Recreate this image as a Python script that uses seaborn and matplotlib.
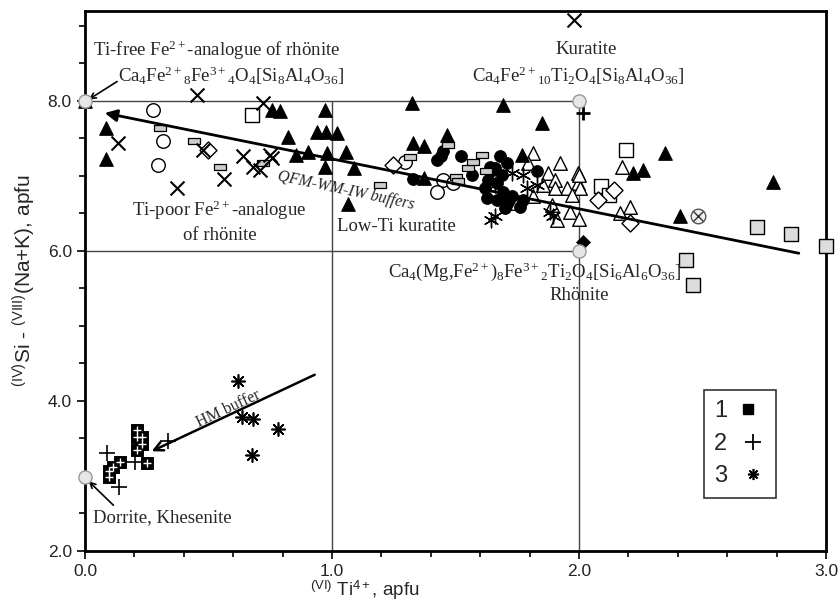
import matplotlib
matplotlib.use("Agg")
import matplotlib.pyplot as plt
import seaborn as sns
from matplotlib.lines import Line2D
from matplotlib.legend_handler import HandlerTuple
from matplotlib.ticker import MultipleLocator, FormatStrFormatter

# ---------------- data ----------------
tri_filled_x = [0.0, 0.085, 0.085, 0.756, 0.789, 0.823, 0.854, 0.904, 0.938, 0.972, 0.976, 1.019, 0.978,
                0.972, 1.057, 1.089, 1.066, 1.322, 1.329, 1.372, 1.467, 1.372, 1.691, 1.849, 1.768, 2.22,
                2.26, 2.348, 2.409, 2.787]
tri_filled_y = [8.0, 7.64, 7.22, 7.88, 7.86, 7.52, 7.28, 7.32, 7.59, 7.88, 7.59, 7.57, 7.30,
                7.12, 7.32, 7.10, 6.63, 7.97, 7.44, 7.40, 7.55, 6.97, 7.95, 7.71, 7.28, 7.04,
                7.08, 7.30, 6.46, 6.92]

tri_open_x = [1.812, 1.795, 1.923, 1.876, 1.903, 1.997, 1.997, 1.95, 1.856, 1.903, 2.005, 1.747, 1.815,
              1.889, 1.964, 2.0, 1.909, 2.0, 1.97, 2.173, 2.207, 2.166]
tri_open_y = [7.30, 7.17, 7.17, 7.04, 6.95, 7.04, 6.91, 6.84, 6.88, 6.84, 6.84, 6.64, 6.73,
              6.61, 6.52, 6.43, 6.41, 7.01, 6.75, 7.12, 6.59, 6.50]

circ_filled_x = [1.329, 1.448, 1.44, 1.424, 1.521, 1.565, 1.633, 1.619, 1.626, 1.66, 1.68, 1.707, 1.653,
                 1.687, 1.667, 1.694, 1.714, 1.727, 1.667, 1.70, 1.775, 1.762, 1.828, 1.64]
circ_filled_y = [6.96, 7.33, 7.26, 7.21, 7.26, 7.01, 6.95, 6.84, 6.70, 7.10, 7.26, 7.17, 7.08,
                 7.01, 6.90, 6.79, 6.66, 6.73, 6.68, 6.57, 6.68, 6.59, 7.06, 7.12]

circ_open_x = [0.274, 0.317, 0.297, 1.296, 1.448, 1.424, 1.491]
circ_open_y = [7.88, 7.47, 7.15, 7.19, 6.95, 6.79, 6.90]

xmark_x = [0.452, 0.719, 0.135, 0.479, 0.371, 0.563, 0.641, 0.681, 0.709, 0.749, 0.756, 1.98]
xmark_y = [8.08, 7.97, 7.44, 7.35, 6.84, 6.96, 7.26, 7.12, 7.08, 7.28, 7.24, 9.08]

sq_open_x = [0.675, 2.19, 2.09, 2.12]
sq_open_y = [7.81, 7.35, 6.86, 6.75]

sq_gray_x = [2.433, 2.463, 2.72, 2.858, 3.0]
sq_gray_y = [5.88, 5.55, 6.32, 6.22, 6.07]

rect_x = [0.304, 0.443, 0.547, 0.722, 1.194, 1.316, 1.471, 1.504, 1.51, 1.552, 1.572, 1.606, 1.623]
rect_y = [7.64, 7.46, 7.12, 7.17, 6.88, 7.25, 7.41, 6.99, 6.93, 7.10, 7.19, 7.28, 7.06]

diam_open_x = [0.499, 1.248, 2.078, 2.142, 2.207]
diam_open_y = [7.35, 7.15, 6.68, 6.81, 6.37]

diam_filled_x = [2.018]
diam_filled_y = [6.12]

astem_x = [1.642, 1.727, 1.775, 1.66, 1.788, 1.883, 1.831, 1.896, 1.66]
astem_y = [6.41, 7.04, 7.01, 6.88, 6.84, 6.52, 6.88, 6.46, 6.46]

circx_x = [2.483]
circx_y = [6.47]

plusbold_x = [2.018]
plusbold_y = [7.84]

g1_x = [0.209, 0.209, 0.23, 0.209, 0.23, 0.142, 0.098, 0.098, 0.115, 0.25]
g1_y = [3.61, 3.52, 3.52, 3.35, 3.42, 3.19, 3.06, 2.99, 3.12, 3.17]
g2_x = [0.088, 0.202, 0.139, 0.337]
g2_y = [3.30, 3.19, 2.85, 3.46]
g3_x = [0.62, 0.634, 0.679, 0.675, 0.78]
g3_y = [4.27, 3.78, 3.76, 3.28, 3.62]

end_x = [0.0, 2.0, 2.0, 0.0]
end_y = [8.0, 8.0, 6.0, 2.98]

# reference field boundaries
hline_y = [8.0, 6.0]
hline_x1 = [0.0, 0.0]
hline_x2 = [2.0, 2.0]
vline_x = [1.0, 2.0]
vline_y1 = [2.0, 2.0]
vline_y2 = [8.0, 8.0]

trend_x = [2.89, 0.08]
trend_y = [5.97, 7.84]
hm_x = [0.93, 0.27]
hm_y = [4.35, 3.33]

legend_labels = ["1", "2", "3"]

# ---------------- style ----------------
sns.set_style("ticks")
plt.rcParams["font.family"] = ["Liberation Serif", "DejaVu Serif"]
plt.rcParams["mathtext.fontset"] = "custom"
plt.rcParams["mathtext.rm"] = "Liberation Serif"
plt.rcParams["mathtext.it"] = "Liberation Serif:italic"
plt.rcParams["mathtext.sf"] = "Liberation Sans"

fig = plt.figure(figsize=(8.39, 6.01), dpi=100)
ax = fig.add_axes([0.1013, 0.0832, 0.8832, 0.8985])
ax.set_xlim(0, 3.0)
ax.set_ylim(2.0, 9.2)

lc = "#444444"
for y, x1, x2 in zip(hline_y, hline_x1, hline_x2):
    ax.plot([x1, x2], [y, y], color=lc, lw=1.0, zorder=1)
for x, y1, y2 in zip(vline_x, vline_y1, vline_y2):
    ax.plot([x, x], [y1, y2], color=lc, lw=1.0, zorder=1)

def sc(xs, ys, **kw):
    kw.setdefault("clip_on", False)
    kw.setdefault("zorder", 3)
    sns.scatterplot(x=xs, y=ys, ax=ax, legend=False, **kw)

rect_marker = [(-1, -0.42), (1, -0.42), (1, 0.42), (-1, 0.42), (-1, -0.42)]

sc(tri_open_x, tri_open_y, marker="^", s=95, color="white", edgecolor="black", linewidth=1.0)
sc(circ_filled_x, circ_filled_y, marker="o", s=70, color="black", edgecolor="black", linewidth=0.8)
sc(circ_open_x, circ_open_y, marker="o", s=95, color="white", edgecolor="black", linewidth=1.0)
sc(rect_x, rect_y, marker=rect_marker, s=75, color="#cccccc", edgecolor="black", linewidth=0.9)
sc(sq_open_x, sq_open_y, marker="s", s=95, color="white", edgecolor="black", linewidth=1.0)
sc(sq_gray_x, sq_gray_y, marker="s", s=95, color="#dddddd", edgecolor="black", linewidth=1.0)
sc(diam_open_x, diam_open_y, marker="D", s=75, color="white", edgecolor="black", linewidth=1.0)
sc(diam_filled_x, diam_filled_y, marker="D", s=50, color="black", edgecolor="black")
sc(xmark_x, xmark_y, marker="x", s=100, color="black", linewidth=1.5)
sc(astem_x, astem_y, marker=(6, 2, 0), s=110, color="black", linewidth=1.0)
sc(tri_filled_x, tri_filled_y, marker="^", s=95, color="black", edgecolor="black", linewidth=0.8)
sc(circx_x, circx_y, marker="o", s=110, color="#eeeeee", edgecolor="#555555", linewidth=1.0)
sc(circx_x, circx_y, marker="x", s=50, color="#333333", linewidth=1.0)
sc(plusbold_x, plusbold_y, marker="+", s=110, color="black", linewidth=2.0)
sc(g1_x, g1_y, marker="s", s=70, color="black", edgecolor="black")
sc(g1_x, g1_y, marker="+", s=40, color="white", linewidth=1.0, zorder=4)
sc(g2_x, g2_y, marker="+", s=140, color="black", linewidth=1.2)
sc(g3_x, g3_y, marker=(8, 2, 0), s=90, color="black", linewidth=1.2)
sc(end_x, end_y, marker="o", s=90, color="#e6e6e6", edgecolor="#999999", linewidth=1.0, zorder=5)

# trend arrows
ax.annotate("", xy=(trend_x[1], trend_y[1]), xytext=(trend_x[0], trend_y[0]),
            arrowprops=dict(arrowstyle="-|>", color="black", lw=2.0, mutation_scale=18, shrinkA=0, shrinkB=0),
            zorder=6)
ax.annotate("", xy=(hm_x[1], hm_y[1]), xytext=(hm_x[0], hm_y[0]),
            arrowprops=dict(arrowstyle="->", color="black", lw=1.8, mutation_scale=16, shrinkA=0, shrinkB=0),
            zorder=6)

# labels
fs = 13.5
ax.text(0.032, 8.68, "Ti-free Fe$^{2+}$-analogue of rhönite", fontsize=fs, va="center", ha="left")
ax.text(0.134, 8.34, "Ca$_4$Fe$^{2+}$$_8$Fe$^{3+}$$_4$O$_4$[Si$_8$Al$_4$O$_{36}$]", fontsize=fs, va="center", ha="left")
ax.annotate("", xy=(0.015, 8.02), xytext=(0.13, 8.26),
            arrowprops=dict(arrowstyle="->", color="black", lw=1.2, shrinkA=0, shrinkB=0))
ax.text(2.03, 8.68, "Kuratite", fontsize=fs, va="center", ha="center")
ax.text(1.995, 8.34, "Ca$_4$Fe$^{2+}$$_{10}$Ti$_2$O$_4$[Si$_8$Al$_4$O$_{36}$]", fontsize=fs, va="center", ha="center")
ax.text(0.545, 6.54, "Ti-poor Fe$^{2+}$-analogue", fontsize=fs, va="center", ha="center")
ax.text(0.545, 6.20, "of rhönite", fontsize=fs, va="center", ha="center")
ax.text(1.02, 6.32, "Low-Ti kuratite", fontsize=fs, va="center", ha="left")
ax.text(1.82, 5.72, "Ca$_4$(Mg,Fe$^{2+}$)$_8$Fe$^{3+}$$_2$Ti$_2$O$_4$[Si$_6$Al$_6$O$_{36}$]", fontsize=fs,
        va="center", ha="center")
ax.text(2.0, 5.40, "Rhönite", fontsize=fs, va="center", ha="center")
ax.text(0.032, 2.45, "Dorrite, Khesenite", fontsize=fs, va="center", ha="left")
ax.annotate("", xy=(0.015, 2.93), xytext=(0.115, 2.61),
            arrowprops=dict(arrowstyle="->", color="black", lw=1.2, shrinkA=0, shrinkB=0))
ax.text(1.057, 6.80, "QFM-WM-IW buffers", fontsize=11.5, style="italic", rotation=-12,
        rotation_mode="anchor", va="center", ha="center")
ax.text(0.58, 3.9, "HM buffer", fontsize=11.5, rotation=25, rotation_mode="anchor",
        va="center", ha="center")

# legend
h1 = (Line2D([], [], ls="", marker="s", mfc="black", mec="black", ms=7),
      Line2D([], [], ls="", marker="+", mec="white", ms=6, mew=1.2))
h2 = Line2D([], [], ls="", marker="+", color="black", ms=11, mew=1.3)
h3 = Line2D([], [], ls="", marker=(8, 2, 0), color="black", ms=8, mew=1.2)
leg = ax.legend([h1, h2, h3], legend_labels, handler_map={tuple: HandlerTuple(ndivide=None, pad=0)},
                markerfirst=False, loc="lower left", bbox_to_anchor=(0.835, 0.098), borderaxespad=0,
                fancybox=False, edgecolor="#333333", framealpha=1,
                prop={"family": "Liberation Sans", "size": 17}, handlelength=1.0, handletextpad=0.6,
                labelspacing=0.45, borderpad=0.45)
leg.get_frame().set_linewidth(1.2)

# axes
for sp in ax.spines.values():
    sp.set_linewidth(2.0)
    sp.set_color("black")
ax.xaxis.set_major_locator(MultipleLocator(1.0))
ax.xaxis.set_minor_locator(MultipleLocator(0.2))
ax.yaxis.set_major_locator(MultipleLocator(2.0))
ax.yaxis.set_minor_locator(MultipleLocator(0.5))
ax.xaxis.set_major_formatter(FormatStrFormatter("%.1f"))
ax.yaxis.set_major_formatter(FormatStrFormatter("%.1f"))
ax.tick_params(which="both", direction="out", width=1.2, colors="black", labelcolor="#222222")
ax.tick_params(which="major", length=6)
ax.tick_params(which="minor", length=4)
for lab in ax.get_xticklabels() + ax.get_yticklabels():
    lab.set_family("Liberation Sans")
    lab.set_fontsize(12.5)

ax.set_xlabel(r"${}^{\mathsf{(VI)}}$ Ti$^{\mathsf{4+}}$, apfu", family="Liberation Sans", fontsize=13.5)
ax.xaxis.set_label_coords(0.378, -0.052)
ax.set_ylabel(r"${}^{\mathsf{(IV)}}$Si - ${}^{\mathsf{(VIII)}}$(Na+K), apfu", family="Liberation Sans",
              fontsize=15, labelpad=8)

fig.savefig("out.png", dpi=100)
